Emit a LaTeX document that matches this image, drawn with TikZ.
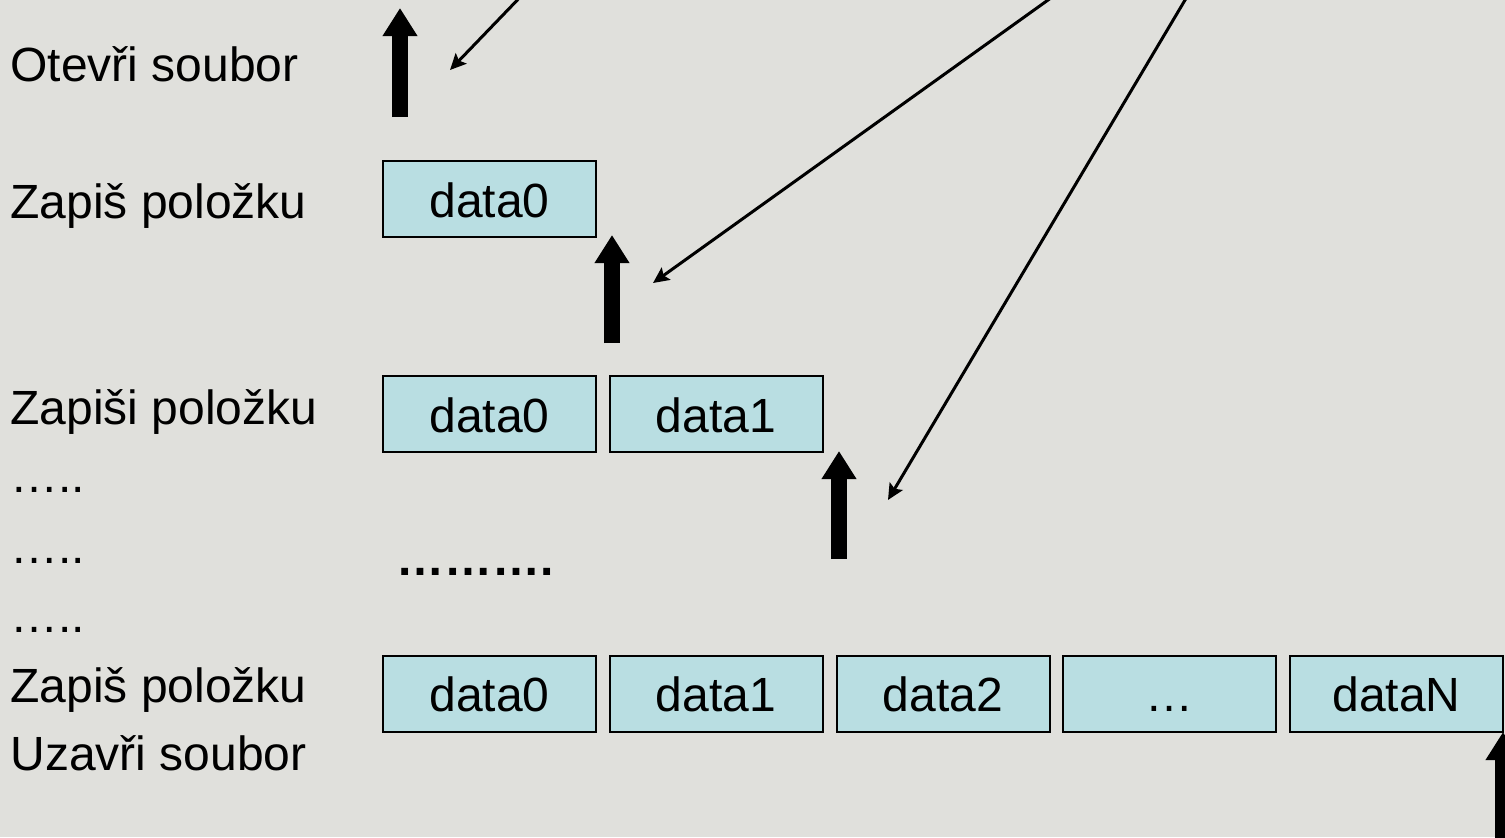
\documentclass[tikz,border=0pt]{standalone}
\usepackage{fontspec}
\setmainfont{Liberation Sans}
\usepackage{xcolor}
\usetikzlibrary{arrows.meta}

\definecolor{pozadi}{RGB}{224,224,220}
\definecolor{modra}{RGB}{185,222,226}

\tikzset{
	bunka/.style={draw=black,line width=1pt,fill=modra,minimum width=106.5pt,minimum height=38pt,
		inner sep=0pt,text height=18pt,text depth=0pt,font=\fontsize{24}{28}\selectfont},
	popis/.style={anchor=base west,inner sep=0pt,font=\fontsize{24}{28}\selectfont},
	pozice/.style={line width=8pt,-{Triangle[width=16.5pt,length=14pt]}},
	odkaz/.style={line width=1.5pt,-{Stealth[length=8pt,width=7.5pt,inset=1.5pt]}}
}

\begin{document}
\begin{tikzpicture}[x=0.5pt,y=-0.5pt]
	%
	% Pozadi
	\fill[pozadi] (0,0) rectangle (1505,837);
	\clip (0,0) rectangle (1505,837);
	%
	% Operace vlevo
	\node[popis] (otevri) at (10,81) {Otevři soubor};
	\node[popis] (zapis1) at (10,218) {Zapiš položku};
	\node[popis] (zapis2) at (10,424) {Zapiši položku};
	\node[popis] (tecky1) at (10,492) {…..};
	\node[popis] (tecky2) at (10,563) {…..};
	\node[popis] (tecky3) at (10,632) {…..};
	\node[popis] (zapisN) at (10,702) {Zapiš položku};
	\node[popis] (uzavri) at (10,770) {Uzavři soubor};
	%
	% Obsah souboru
	\node[bunka] (a0) at (489.5,199) {data0};
	\node[bunka] (b0) at (489.5,414) {data0};
	\node[bunka] (b1) at (716,414) {data1};
	\node[popis,font=\fontsize{24}{28}\selectfont\bfseries] (mezi) at (396,575) {……….};
	\foreach \i/\x/\t in {0/489.5/data0,1/716/data1,2/943/data2,3/1169.5/…,4/1396.5/dataN}
		\node[bunka] (c\i) at (\x,693.5) {\t};
	%
	% Ukazatel pozice
	\coordinate (p1s) at (400,117);  \coordinate (p1e) at (400,8);
	\coordinate (p2s) at (612,343);  \coordinate (p2e) at (612,235);
	\coordinate (p3s) at (839,559);  \coordinate (p3e) at (839,451);
	\coordinate (p4s) at (1503,850); \coordinate (p4e) at (1503,732);
	\foreach \k in {1,...,4}
		\draw[pozice] (p\k s) -- (p\k e);
	%
	% Tenke sipky shora
	\coordinate (z1) at (527,-10);  \coordinate (k1) at (450,70);
	\coordinate (z2) at (1062,-10); \coordinate (k2) at (653,283);
	\coordinate (z3) at (1191,-10); \coordinate (k3) at (888,500);
	\foreach \k in {1,2,3}
		\draw[odkaz] (z\k) -- (k\k);
\end{tikzpicture}
\end{document}
